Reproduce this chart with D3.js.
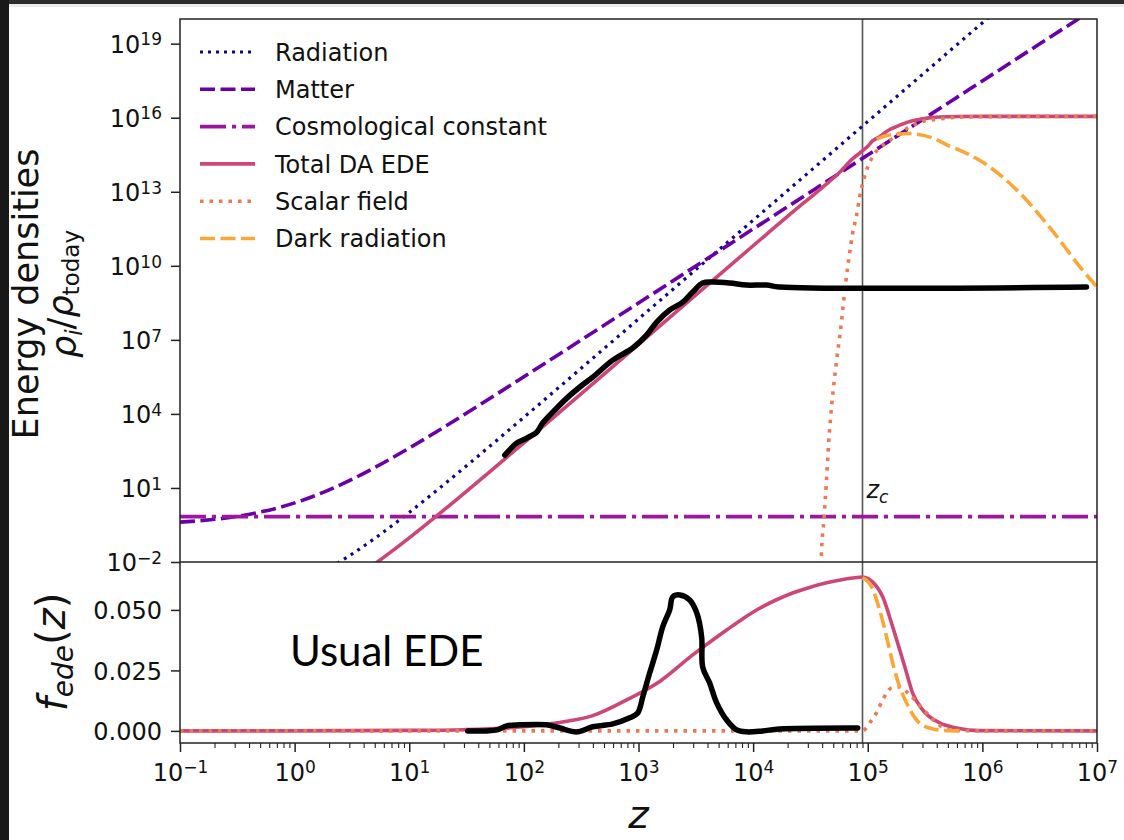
<!DOCTYPE html>
<html>
<head>
<meta charset="utf-8">
<script src="https://cdn.jsdelivr.net/npm/d3@7"></script>
<style>
body{margin:0;background:#fff;}
svg text{font-family:"DejaVu Sans";fill:#111;}
</style>
</head>
<body>
<div id="viz"></div>
<script>
///Declarations
const width = 1124, height = 840;

//1. Axis ticks
const X_TICKS = [1e-1, 1e0, 1e1, 1e2, 1e3, 1e4, 1e5, 1e6, 1e7];
const X_EXPONENTS = ["\u22121", "0", "1", "2", "3", "4", "5", "6", "7"];
const Y_TOP_TICKS = [1e-2, 1e1, 1e4, 1e7, 1e10, 1e13, 1e16, 1e19];
const Y_TOP_EXPONENTS = ["\u22122", "1", "4", "7", "10", "13", "16", "19"];
const Y_BOT_TICKS = [0, 0.025, 0.05];
const Y_BOT_LABELS = ["0.000", "0.025", "0.050"];
const Z_C = 9.0e4;

//2. Energy densities, [z, rho_i/rho_today]
const radiation = [[1, 1.12e-3], [2, 5.67e-3], [3, 1.79e-2], [5, 9.07e-2], [10, 1.02], [20, 13.6], [50, 473],
    [100, 7.28e3], [1e3, 7.03e7], [1e4, 7.0e11], [1e5, 7.0e15], [1e6, 7.0e19], [1.2e6, 1.45e20]];
const matter = [[0.1, 0.413], [0.15, 0.472], [0.2, 0.536], [0.3, 0.681], [0.5, 1.05], [0.7, 1.52], [1, 2.48],
    [1.5, 4.84], [2, 8.37], [3, 19.8], [5, 67], [10, 413], [20, 2871], [50, 4.11e4], [100, 3.19e5],
    [1e3, 3.1e8], [1e4, 3.1e11], [1e5, 3.1e14], [1e6, 3.1e17], [1e7, 3.1e20]];
const lambda = [[0.1, 0.69], [1e7, 0.69]];
const totalEde = [[1, 1.04e-4], [3, 1.66e-3], [5, 8.4e-3], [10, 9.5e-2], [20, 1.26], [50, 44], [100, 677],
    [1e3, 6.53e6], [1e4, 6.5e10], [2.55e4, 2.6e12], [3.8e4, 1.2e13], [5.69e4, 6.2e13], [7.4e4, 2.2e14],
    [8.5e4, 3.7e14], [1.0e5, 7.0e14], [1.1e5, 1.15e15], [1.27e5, 1.7e15], [1.46e5, 2.8e15], [1.9e5, 5.0e15],
    [2.46e5, 7.6e15], [2.83e5, 8.5e15], [3.7e5, 1.03e16], [4.2e5, 1.07e16], [6.3e5, 1.12e16], [1e6, 1.13e16],
    [1e7, 1.13e16]];
const scalarField = [[3.89e4, 3e-3], [3.937e4, 1.91e-2], [4.123e4, 0.379], [4.352e4, 15.8], [4.558e4, 661],
    [4.868e4, 2.76e4], [5.319e4, 1.15e6], [5.883e4, 4.81e7], [6.412e4, 2.01e9], [6.95e4, 3.3e10],
    [7.38e4, 2.1e11], [8.0e4, 1.15e12], [8.49e4, 6.2e12], [9.2e4, 3.0e13], [9.98e4, 1.0e14], [1.1e5, 2.6e14],
    [1.27e5, 5.9e14], [1.46e5, 9.6e14], [1.9e5, 2.4e15], [2.32e5, 4.2e15], [2.83e5, 6.5e15], [4.24e5, 8.9e15],
    [6.3e5, 1.05e16], [9.45e5, 1.1e16], [1e7, 1.13e16]];
const darkRadiation = [[1.2e5, 1.35e15], [1.46e5, 1.9e15], [1.9e5, 2.2e15], [2.3e5, 2.3e15], [2.7e5, 2.15e15],
    [3.7e5, 1.5e15], [5.2e5, 7.0e14], [6.3e5, 4.9e14], [1.0e6, 1.6e14], [2.0e6, 1.17e13], [3.85e6, 3.7e11],
    [7.46e6, 6.8e9], [1.0e7, 1.38e9]];

//3. f_ede(z), [z, f]
const fTotal = [[0.1, 0], [1, 0.00003], [10, 0.0002], [30, 0.0005], [100, 0.0017], [206, 0.0035], [399, 0.0063],
    [789, 0.0128], [1531, 0.0204], [2972, 0.0314], [5875, 0.0417], [8200, 0.0465], [1.14e4, 0.0507],
    [1.6e4, 0.0542], [2.21e4, 0.057], [3.1e4, 0.0593], [4.38e4, 0.0612], [7.38e4, 0.0632], [9.0e4, 0.0636],
    [1.0e5, 0.063], [1.1e5, 0.0616], [1.35e5, 0.0554], [1.65e5, 0.043], [1.9e5, 0.0335], [2.18e5, 0.024],
    [2.46e5, 0.0157], [3.01e5, 0.0087], [4.24e5, 0.0033], [5.96e5, 0.0012], [9.45e5, 0.0001], [1e7, 0]];
const fScalar = [[0.1, 0], [9.0e4, 0], [1.04e5, 0.0033], [1.19e5, 0.0074], [1.35e5, 0.0128], [1.62e5, 0.0178],
    [1.9e5, 0.0182], [2.23e5, 0.0157], [2.67e5, 0.012], [3.26e5, 0.0074], [3.99e5, 0.0033], [5.17e5, 0.0004],
    [9.45e5, 0], [1e7, 0]];
const fDark = [[9.0e4, 0.0632], [1.0e5, 0.0618], [1.08e5, 0.0595], [1.27e5, 0.05], [1.46e5, 0.0388],
    [1.65e5, 0.0281], [1.9e5, 0.0182], [2.18e5, 0.0116], [2.67e5, 0.0045], [3.46e5, 0.0012], [4.88e5, 0.0001],
    [7e5, 0]];

//4. Hand drawn overlay ("Usual EDE")
const usualRho = [[68.2, 214], [86.7, 661], [106, 1047], [130, 1862], [146, 4266], [194, 1.74e4], [237, 4.37e4],
    [308, 1.23e5], [399, 3.09e5], [596, 1.51e6], [891, 4.68e6], [1180, 1.58e7], [1442, 5.25e7], [1871, 1.62e8],
    [2432, 3.39e8], [2972, 8.71e8], [3631, 2.0e9], [4436, 2.19e9], [6252, 2.0e9], [8790, 1.66e9],
    [1.31e4, 1.66e9], [1.70e4, 1.38e9], [8.09e6, 1.38e9]];
const usualF = [[32.4, 0], [47.5, 0], [58.1, 0.0004], [71.0, 0.0021], [92.2, 0.0025], [158, 0.0025],
    [206, 0.0012], [290, -0.0004], [399, 0.0017], [596, 0.0029], [839, 0.0054], [984, 0.0074], [1089, 0.014],
    [1253, 0.024], [1442, 0.0335], [1626, 0.043], [1871, 0.05], [1991, 0.0554], [2291, 0.0562], [2799, 0.0541],
    [3221, 0.0488], [3556, 0.0388], [3631, 0.0264], [4178, 0.0198], [4808, 0.0116], [5875, 0.0045],
    [7194, 0.0004], [8790, -0.0004], [1.21e4, 0], [1.70e4, 0.0008], [8.17e4, 0.0012]];

const LEGEND = [
    {label: "Radiation", color: "#0d0887", dash: "3,5", w: 3.2},
    {label: "Matter", color: "#6a00a8", dash: "15,5.5", w: 3.6},
    {label: "Cosmological constant", color: "#9c179e", dash: "26,6,4,6", w: 3.6},
    {label: "Total DA EDE", color: "#cc4778", dash: null, w: 3.6},
    {label: "Scalar field", color: "#ed7953", dash: "3.5,6", w: 3.6},
    {label: "Dark radiation", color: "#fca636", dash: "15,5.5", w: 3.6}
];

//Scales
const left = 180, right = 1097, topY = 19, midY = 562, botY = 743;
var x = d3.scaleLog().domain([0.1, 1e7]).range([left, right]);
var yTop = d3.scaleLog().domain([1e-2, 1e20]).range([midY, topY]);
var yBot = d3.scaleLinear().domain([-0.005, 0.0698]).range([botY, midY]);

var svg = d3.select("#viz").append("svg").attr("width", width).attr("height", height);

// dark frame of the screenshot
svg.append("rect").attr("x", 0).attr("y", 0).attr("width", width).attr("height", 4).attr("fill", "#2c2c2c");
svg.append("rect").attr("x", 0).attr("y", 4).attr("width", width).attr("height", 3).attr("fill", "#ececec");
svg.append("rect").attr("x", 0).attr("y", 0).attr("width", 9).attr("height", height).attr("fill", "#181818");

var defs = svg.append("defs");
defs.append("clipPath").attr("id", "clipTop").append("rect")
    .attr("x", left).attr("y", topY).attr("width", right - left).attr("height", midY - topY);
defs.append("clipPath").attr("id", "clipBot").append("rect")
    .attr("x", left).attr("y", midY).attr("width", right - left).attr("height", botY - midY);

function drawSeries(g, data, yScale, st, curve) {
    g.append("path").datum(data)
        .attr("fill", "none")
        .attr("stroke", st.color)
        .attr("stroke-width", st.w)
        .attr("stroke-dasharray", st.dash)
        .attr("d", d3.line().x(d => x(d[0])).y(d => yScale(d[1])).curve(curve || d3.curveMonotoneX));
}

// z_c marker through both panels
svg.append("line").attr("x1", x(Z_C)).attr("x2", x(Z_C)).attr("y1", topY).attr("y2", botY)
    .attr("stroke", "#555").attr("stroke-width", 1.6);

//Top panel
var gTop = svg.append("g").attr("clip-path", "url(#clipTop)");
[radiation, matter, lambda, totalEde, scalarField, darkRadiation].forEach((s, i) => drawSeries(gTop, s, yTop, LEGEND[i]));

//Bottom panel
var gBot = svg.append("g").attr("clip-path", "url(#clipBot)");
drawSeries(gBot, fTotal, yBot, LEGEND[3]);
drawSeries(gBot, fScalar, yBot, LEGEND[4]);
drawSeries(gBot, fDark, yBot, LEGEND[5]);

// spines
svg.append("rect").attr("x", left).attr("y", topY).attr("width", right - left).attr("height", botY - topY)
    .attr("fill", "none").attr("stroke", "#222").attr("stroke-width", 1.5);
svg.append("line").attr("x1", left).attr("x2", right).attr("y1", midY).attr("y2", midY)
    .attr("stroke", "#222").attr("stroke-width", 1.5);

//Axes
function styleAxis(g) {
    g.select(".domain").remove();
    g.selectAll(".tick line").attr("stroke", "#222").attr("stroke-width", 1.5);
    g.selectAll(".tick text").attr("font-size", "24px").attr("fill", "#111").attr("font-family", "DejaVu Sans");
}
function powerLabels(g, exps, dy) {
    g.selectAll(".tick text").each(function (d, i) {
        var t = d3.select(this).text(null).attr("dy", dy);
        t.append("tspan").text("10");
        t.append("tspan").attr("dy", "-0.45em").attr("font-size", "17px").text(exps[i]);
    });
}

var axTop = svg.append("g").attr("transform", `translate(${left},0)`)
    .call(d3.axisLeft(yTop).tickValues(Y_TOP_TICKS).tickSize(9).tickPadding(9));
styleAxis(axTop);
powerLabels(axTop, Y_TOP_EXPONENTS, "0.37em");

var axBot = svg.append("g").attr("transform", `translate(${left},0)`)
    .call(d3.axisLeft(yBot).tickValues(Y_BOT_TICKS).tickSize(9).tickPadding(9).tickFormat((d, i) => Y_BOT_LABELS[i]));
styleAxis(axBot);
axBot.selectAll(".tick text").attr("dy", "0.37em");

var minorX = [];
for (let e = -1; e < 7; e++) for (let k = 2; k < 10; k++) minorX.push(k * Math.pow(10, e));
var axMinor = svg.append("g").attr("transform", `translate(0,${botY})`)
    .call(d3.axisBottom(x).tickValues(minorX).tickSize(5).tickFormat(""));
styleAxis(axMinor);
axMinor.selectAll(".tick line").attr("stroke-width", 1.1);

var axX = svg.append("g").attr("transform", `translate(0,${botY})`)
    .call(d3.axisBottom(x).tickValues(X_TICKS).tickSize(9).tickPadding(12));
styleAxis(axX);
powerLabels(axX, X_EXPONENTS, "0.71em");

//Axis labels
svg.append("text").attr("transform", "translate(38,294) rotate(-90)")
    .attr("text-anchor", "middle").attr("font-size", "35px").text("Energy densities");
var l2 = svg.append("text").attr("transform", "translate(76,294) rotate(-90)")
    .attr("text-anchor", "middle").attr("font-size", "35px");
l2.append("tspan").attr("font-style", "italic").text("\u03c1");
l2.append("tspan").attr("font-style", "italic").attr("font-size", "23px").attr("dy", "0.25em").text("i");
l2.append("tspan").attr("dy", "-0.25em").text("/");
l2.append("tspan").attr("font-style", "italic").text("\u03c1");
l2.append("tspan").attr("font-size", "23px").attr("dy", "0.25em").text("today");

var l3 = svg.append("text").attr("transform", "translate(67,652) rotate(-90)")
    .attr("text-anchor", "middle").attr("font-size", "40px");
l3.append("tspan").attr("font-style", "italic").text("f");
l3.append("tspan").attr("font-style", "italic").attr("font-size", "28px").attr("dy", "0.2em").text("ede");
l3.append("tspan").attr("dy", "-0.2em").text("(");
l3.append("tspan").attr("font-style", "italic").text("z");
l3.append("tspan").text(")");

svg.append("text").attr("x", (left + right) / 2).attr("y", 828).attr("text-anchor", "middle")
    .attr("font-size", "39px").attr("font-style", "italic").text("z");

var zc = svg.append("text").attr("x", x(Z_C) + 4).attr("y", 498).attr("font-size", "24px").attr("font-style", "italic");
zc.append("tspan").text("z");
zc.append("tspan").attr("font-size", "17px").attr("dy", "0.3em").text("c");

//Legend
var lg = svg.append("g");
LEGEND.forEach((s, i) => {
    var yy = 52 + i * 37.3;
    lg.append("line").attr("x1", 200).attr("x2", 255).attr("y1", yy).attr("y2", yy)
        .attr("stroke", s.color).attr("stroke-width", s.w).attr("stroke-dasharray", s.dash);
    lg.append("text").attr("x", 275).attr("y", yy).attr("dy", "0.36em").attr("font-size", "24px").text(s.label);
});

//Hand drawn overlay
var gOver = svg.append("g");
drawSeries(gOver, usualRho, yTop, {color: "#000", w: 5.5, dash: null}, d3.curveCatmullRom);
drawSeries(gOver, usualF, yBot, {color: "#000", w: 5.5, dash: null}, d3.curveCatmullRom);
gOver.selectAll("path").attr("stroke-linecap", "round").attr("stroke-linejoin", "round");
gOver.append("text").attr("x", 290).attr("y", 666).attr("font-size", "42px")
    .style("font-family", "Lato").style("fill", "#000").text("Usual EDE");
</script>
</body>
</html>
